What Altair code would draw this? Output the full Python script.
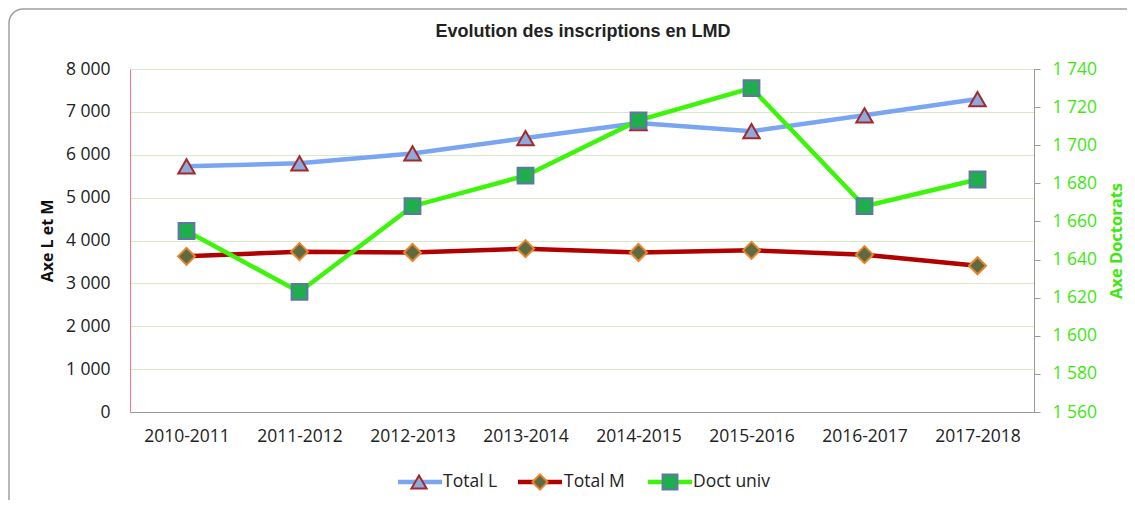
import altair as alt
import pandas as pd

years = ["2010-2011", "2011-2012", "2012-2013", "2013-2014",
         "2014-2015", "2015-2016", "2016-2017", "2017-2018"]
total_l = [5730, 5800, 6030, 6390, 6740, 6550, 6920, 7300]
total_m = [3630, 3740, 3720, 3810, 3720, 3770, 3670, 3410]
doct_univ = [1655, 1623, 1668, 1684, 1713, 1730, 1668, 1682]

df = pd.DataFrame({"annee": years, "L": total_l, "M": total_m, "D": doct_univ})
one = pd.DataFrame({"k": [0]})

FONT = "Open Sans"
BLUE = "#79a5f2"
RED = "#b00000"
GREEN = "#3cf50a"
GREEN_TXT = "#3ee80f"

W, H = 904, 343
fmt = "replace(format(datum.value, ','), ',', ' ')"

x_enc = alt.X("annee:O", sort=years, title=None,
              scale=alt.Scale(type="point", padding=0.5),
              axis=alt.Axis(labelAngle=0, ticks=False, domainColor="#9a9a9a",
                            labelFont=FONT, labelFontSize=17.5, labelColor="#222",
                            labelPadding=15, grid=False))

left_axis = alt.Axis(title="Axe L et M", values=list(range(0, 8001, 1000)),
                     labelExpr=fmt, ticks=False, domainColor="#ff7088",
                     grid=True, gridColor="#dbe8c6", labelFont=FONT,
                     labelFontSize=17.5, labelColor="#222", labelPadding=20,
                     titleFont=FONT, titleFontSize=16, titleFontWeight="bold",
                     titleColor="#111", titlePadding=10)
left_scale = alt.Scale(domain=[0, 8000], nice=False, zero=True)

def yl(field):
    return alt.Y(f"{field}:Q", scale=left_scale, axis=left_axis)

base = alt.Chart(df)
line_l = base.mark_line(color=BLUE, strokeWidth=4.5).encode(x=x_enc, y=yl("L"))
pts_l = base.mark_point(shape="triangle-up", filled=True, fill="#8eaadd",
                        stroke="#a3292b", strokeWidth=2, size=270,
                        opacity=1).encode(x=x_enc, y=yl("L"))
line_m = base.mark_line(color=RED, strokeWidth=4.5).encode(x=x_enc, y=yl("M"))
pts_m = base.mark_point(shape="diamond", filled=True, fill="#5e6a40",
                        stroke="#ea832c", strokeWidth=2, size=290,
                        opacity=1).encode(x=x_enc, y=yl("M"))
left = alt.layer(line_l, line_m, pts_l, pts_m)

right_axis = alt.Axis(title="Axe Doctorats", orient="right",
                      values=list(range(1560, 1741, 20)), labelExpr=fmt,
                      ticks=True, tickSize=6, tickColor="#9a9a9a",
                      domainColor="#9a9a9a", grid=False, labelFont=FONT,
                      labelFontSize=17.5, labelColor=GREEN_TXT, labelPadding=12,
                      titleFont=FONT, titleFontSize=16.5, titleFontWeight="bold",
                      titleColor=GREEN_TXT, titleAngle=270, titlePadding=28)
right_scale = alt.Scale(domain=[1560, 1740], nice=False, zero=False)
yd = alt.Y("D:Q", scale=right_scale, axis=right_axis)
line_d = base.mark_line(color=GREEN, strokeWidth=4.5).encode(x=x_enc, y=yd)
pts_d = base.mark_point(shape="square", filled=True, fill="#1fae4c",
                        stroke="#6176a8", strokeWidth=2, size=250,
                        opacity=1).encode(x=x_enc, y=yd)
right = alt.layer(line_d, pts_d)

# frame
frame = alt.Chart(one).mark_rect(fill=None, stroke="#a0a0a0", strokeWidth=1.5,
                                 cornerRadius=14).encode(
    x=alt.value(-121), x2=alt.value(W + 120),
    y=alt.value(-60), y2=alt.value(H + 120))

title = alt.Chart(one).mark_text(text="Evolution des inscriptions en LMD",
                                 font="Liberation Sans", fontSize=18,
                                 fontWeight="bold", color="#222",
                                 align="center", baseline="middle").encode(
    x=alt.value(W / 2 + 1), y=alt.value(-37))

# legend
def legend_item(x0, x1, xm, xt, color, shape, fill, stroke, size, label):
    ly = 413
    rule = alt.Chart(one).mark_rule(color=color, strokeWidth=4.5).encode(
        x=alt.value(x0), x2=alt.value(x1), y=alt.value(ly))
    pt = alt.Chart(one).mark_point(shape=shape, filled=True, fill=fill,
                                   stroke=stroke, strokeWidth=2, size=size,
                                   opacity=1).encode(x=alt.value(xm), y=alt.value(ly))
    tx = alt.Chart(one).mark_text(text=label, align="left", baseline="middle",
                                  font=FONT, fontSize=17.5, color="#222").encode(
        x=alt.value(xt), y=alt.value(ly))
    return [rule, pt, tx]

leg = (legend_item(268, 312, 289, 313, BLUE, "triangle-up", "#8eaadd", "#a3292b", 230, "Total L")
       + legend_item(388, 432, 410, 434, RED, "diamond", "#5e6a40", "#ea832c", 230, "Total M")
       + legend_item(518, 562, 540, 563, GREEN, "square", "#1fae4c", "#6176a8", 220, "Doct univ"))

chart = alt.layer(frame, title, left, right, *leg).resolve_scale(y="independent").properties(
    width=W, height=H,
    autosize=alt.AutoSizeParams(type="none"),
    padding={"left": 122, "top": 61, "right": 93, "bottom": 88},
).configure_view(stroke=None).configure(background="white")

chart.save("out.html", embed_options={"renderer": "svg", "actions": False})
